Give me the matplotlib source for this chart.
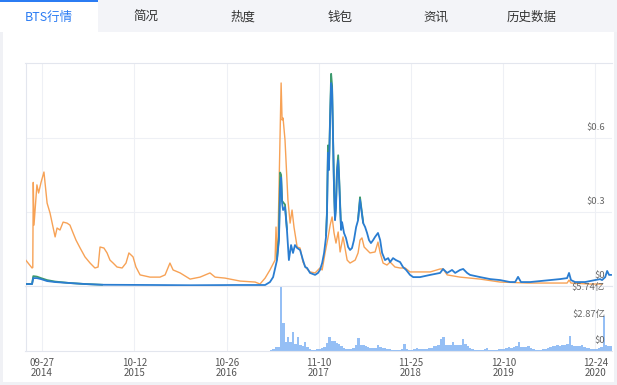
import numpy as np
import pandas as pd
import matplotlib
matplotlib.use("Agg")
import matplotlib.pyplot as plt
from matplotlib.patches import Rectangle

plt.rcParams['font.family'] = ['Noto Sans CJK SC', 'DejaVu Sans']

# tabs
tabs = ['BTS行情', '简况', '热度', '钱包', '资讯', '历史数据']

# orange series
orange_dates = [
    '2014-07-22', '2014-08-17', '2014-08-20', '2014-08-22', '2014-08-25', '2014-09-06',
    '2014-09-13', '2014-09-23', '2014-10-05', '2014-10-18', '2014-10-30', '2014-11-07',
    '2014-11-20', '2014-11-28', '2014-12-10', '2014-12-23', '2015-01-08', '2015-01-20',
    '2015-02-02', '2015-02-14', '2015-03-03', '2015-03-23', '2015-04-13', '2015-05-03',
    '2015-05-16', '2015-05-24', '2015-06-09', '2015-06-22', '2015-07-04', '2015-07-17',
    '2015-08-02', '2015-08-23', '2015-09-08', '2015-09-20', '2015-10-07', '2015-10-19',
    '2015-11-05', '2015-12-16', '2016-01-26', '2016-02-16', '2016-03-07', '2016-03-20',
    '2016-04-18', '2016-05-29', '2016-07-09', '2016-08-19', '2016-09-09', '2016-10-20',
    '2016-12-21', '2017-02-21', '2017-03-13', '2017-04-03', '2017-04-23', '2017-05-14',
    '2017-05-18', '2017-05-22', '2017-05-26', '2017-06-08', '2017-06-12', '2017-06-16',
    '2017-06-24', '2017-07-02', '2017-07-06', '2017-07-15', '2017-07-23', '2017-07-31',
    '2017-08-13', '2017-08-25', '2017-09-06', '2017-09-19', '2017-10-05', '2017-10-26',
    '2017-11-07', '2017-11-15', '2017-11-24', '2017-12-06', '2017-12-18', '2017-12-27',
    '2018-01-04', '2018-01-12', '2018-01-20', '2018-01-29', '2018-02-06', '2018-02-18',
    '2018-03-07', '2018-03-19', '2018-04-09', '2018-04-21', '2018-04-29', '2018-05-07',
    '2018-05-16', '2018-05-28', '2018-06-09', '2018-06-30', '2018-07-12', '2018-07-21',
    '2018-08-02', '2018-08-18', '2018-08-31', '2018-09-20', '2018-10-11', '2018-11-01',
    '2018-11-21', '2018-12-12', '2019-01-01', '2019-02-12', '2019-03-25', '2019-04-06',
    '2019-04-23', '2019-06-15', '2019-09-06', '2019-11-27', '2020-03-19', '2020-06-20',
    '2020-08-29', '2020-09-06', '2020-09-14', '2020-12-02', '2021-01-20',
]
orange_vals = [
    0.105, 0.073, 0.075, 0.42, 0.247, 0.41,
    0.377, 0.42, 0.462, 0.336, 0.296, 0.259,
    0.199, 0.235, 0.227, 0.259, 0.255, 0.247,
    0.215, 0.186, 0.154, 0.118, 0.093, 0.073,
    0.077, 0.158, 0.154, 0.134, 0.105, 0.093,
    0.077, 0.073, 0.093, 0.134, 0.118, 0.077,
    0.045, 0.036, 0.036, 0.045, 0.093, 0.065,
    0.053, 0.028, 0.036, 0.053, 0.036, 0.032,
    0.020, 0.016, 0.008, 0.032, 0.065, 0.105,
    0.239, 0.118, 0.186, 0.823, 0.673, 0.681,
    0.592, 0.430, 0.349, 0.255, 0.308, 0.239,
    0.158, 0.154, 0.097, 0.073, 0.057, 0.053,
    0.065, 0.073, 0.065, 0.134, 0.195, 0.247,
    0.280, 0.215, 0.174, 0.219, 0.138, 0.199,
    0.105, 0.093, 0.105, 0.134, 0.186, 0.195,
    0.158, 0.146, 0.134, 0.138, 0.178, 0.134,
    0.093, 0.085, 0.097, 0.077, 0.073, 0.073,
    0.057, 0.057, 0.057, 0.057, 0.069, 0.069,
    0.045, 0.036, 0.028, 0.016, 0.012, 0.012,
    0.012, 0.024, 0.012, 0.008, 0.008,
]

# blue series
blue_dates = [
    '2014-07-22', '2014-08-17', '2014-08-22', '2014-09-06', '2014-09-23', '2014-10-18',
    '2014-11-20', '2015-01-20', '2015-03-23', '2015-06-01', '2016-01-01', '2016-06-01',
    '2016-12-01', '2017-04-03', '2017-04-23', '2017-05-06', '2017-05-22', '2017-05-30',
    '2017-06-04', '2017-06-08', '2017-06-12', '2017-06-16', '2017-06-24', '2017-07-02',
    '2017-07-10', '2017-07-19', '2017-07-27', '2017-08-04', '2017-08-13', '2017-08-25',
    '2017-09-06', '2017-09-15', '2017-09-23', '2017-10-05', '2017-10-26', '2017-11-07',
    '2017-11-15', '2017-11-24', '2017-12-02', '2017-12-10', '2017-12-14', '2017-12-18',
    '2017-12-22', '2017-12-27', '2017-12-31', '2018-01-04', '2018-01-08', '2018-01-12',
    '2018-01-16', '2018-01-20', '2018-01-24', '2018-01-29', '2018-02-02', '2018-02-06',
    '2018-02-10', '2018-02-14', '2018-02-22', '2018-03-02', '2018-03-11', '2018-03-19',
    '2018-03-27', '2018-04-04', '2018-04-13', '2018-04-21', '2018-04-29', '2018-05-03',
    '2018-05-12', '2018-05-20', '2018-05-28', '2018-06-05', '2018-06-13', '2018-06-22',
    '2018-06-30', '2018-07-12', '2018-07-21', '2018-07-29', '2018-08-10', '2018-08-23',
    '2018-08-31', '2018-09-12', '2018-09-24', '2018-10-11', '2018-10-23', '2018-11-05',
    '2018-11-21', '2018-12-04', '2019-01-01', '2019-02-12', '2019-03-25', '2019-04-06',
    '2019-04-23', '2019-05-13', '2019-05-26', '2019-06-15', '2019-06-28', '2019-07-14',
    '2019-07-26', '2019-09-06', '2019-10-17', '2019-11-27', '2020-01-07', '2020-01-28',
    '2020-02-09', '2020-02-21', '2020-03-30', '2020-06-20', '2020-07-31', '2020-08-29',
    '2020-09-06', '2020-09-14', '2020-10-01', '2020-11-11', '2020-12-22', '2021-01-12',
    '2021-01-20', '2021-02-02', '2021-02-10', '2021-02-18', '2021-02-26',
]
blue_vals = [
    0.008, 0.008, 0.032, 0.032, 0.028, 0.020,
    0.016, 0.012, 0.008, 0.005, 0.004, 0.003,
    0.004, 0.004, 0.016, 0.036, 0.105, 0.186,
    0.390, 0.440, 0.336, 0.308, 0.320, 0.227,
    0.105, 0.166, 0.134, 0.166, 0.154, 0.146,
    0.105, 0.077, 0.073, 0.053, 0.045, 0.053,
    0.065, 0.093, 0.134, 0.199, 0.296, 0.540,
    0.470, 0.685, 0.823, 0.795, 0.592, 0.390,
    0.267, 0.320, 0.458, 0.510, 0.430, 0.320,
    0.227, 0.259, 0.215, 0.195, 0.158, 0.146,
    0.154, 0.186, 0.239, 0.267, 0.349, 0.320,
    0.255, 0.239, 0.215, 0.186, 0.174, 0.186,
    0.199, 0.215, 0.186, 0.134, 0.105, 0.113,
    0.097, 0.113, 0.105, 0.097, 0.077, 0.065,
    0.045, 0.036, 0.036, 0.045, 0.053, 0.069,
    0.053, 0.065, 0.053, 0.065, 0.069, 0.053,
    0.045, 0.036, 0.028, 0.024, 0.016, 0.016,
    0.037, 0.016, 0.016, 0.024, 0.028, 0.032,
    0.053, 0.024, 0.016, 0.016, 0.024, 0.028,
    0.024, 0.036, 0.061, 0.045, 0.045,
]

# green series (mostly hidden under blue, shows at the peaks; None = gap)
green_dates = [
    '2014-07-22', '2014-08-17', '2014-08-22', '2014-09-06', '2014-09-23', '2014-10-18',
    '2014-11-20', '2015-01-20', '2015-03-23', '2015-06-01', '2015-06-02',
    '2017-05-22', '2017-05-30', '2017-06-04', '2017-06-08', '2017-06-12', '2017-06-24',
    '2017-07-02', '2017-07-03',
    '2017-12-10', '2017-12-14', '2017-12-18', '2017-12-22', '2017-12-27', '2017-12-31',
    '2018-01-04', '2018-01-08', '2018-01-12', '2018-01-16', '2018-01-20', '2018-01-24',
    '2018-01-29', '2018-02-02', '2018-02-10', '2018-02-11',
    '2018-04-21', '2018-04-29', '2018-05-03', '2018-05-12',
]
green_vals = [
    0.008, 0.008, 0.040, 0.038, 0.032, 0.024,
    0.018, 0.012, 0.008, 0.005, None,
    0.110, 0.200, 0.460, 0.450, 0.345, 0.330,
    0.230, None,
    0.205, 0.305, 0.570, 0.480, 0.700, 0.860,
    0.810, 0.600, 0.395, 0.272, 0.330, 0.470,
    0.530, 0.440, 0.232, None,
    0.272, 0.360, 0.328, 0.258,
]

# volume (亿 USD), 10-day bins
vol_start = '2017-04-23'
vol_vals = [
    0.1, 0.2, 0.4, 0.4, 7.0, 3.0, 1.0, 1.5, 1.0, 2.1,
    0.8, 1.5, 0.6, 0.5, 1.0, 0.4, 0.2, 0.15, 0.15, 0.2,
    0.2, 0.3, 0.4, 0.9, 1.5, 1.1, 1.1, 0.9, 0.8, 0.5,
    0.3, 0.2, 0.2, 0.2, 0.3, 0.6, 1.4, 0.7, 0.6, 0.5,
    0.4, 0.3, 0.3, 0.3, 0.6, 0.4, 0.3, 0.3, 0.2, 0.2,
    0.15, 0.15, 0.15, 0.15, 0.2, 0.8, 0.2, 0.15, 0.15, 0.2,
    0.3, 0.2, 0.2, 0.2, 0.25, 0.3, 0.3, 0.5, 0.5, 0.6,
    1.3, 1.5, 0.7, 0.6, 0.6, 1.0, 0.7, 0.6, 0.6, 1.3,
    0.8, 0.5, 0.3, 0.2, 0.15, 0.15, 0.1, 0.1, 0.2, 0.3,
    0.1, 0.1, 0.1, 0.15, 0.2, 0.2, 0.25, 0.3, 0.4, 0.3,
    0.4, 0.5, 1.0, 0.4, 0.4, 0.4, 0.5, 0.3, 0.2, 0.15,
    0.15, 0.15, 0.2, 0.2, 0.3, 0.4, 0.5, 0.5, 0.7, 0.5,
    0.6, 0.6, 0.8, 1.6, 0.6, 0.5, 0.5, 0.5, 0.6, 0.4,
    0.3, 0.3, 0.25, 0.25, 0.2, 0.3, 0.4, 3.8, 0.6, 0.5,
    0.5,
]

tick_dates = ['2014-09-27', '2015-10-12', '2016-10-26', '2017-11-10',
              '2018-11-25', '2019-12-10', '2020-12-24']
price_ticks = [0, 0.3, 0.6]
vol_ticks = [0, 2.87, 5.74]

W, H = 617, 385
fig = plt.figure(figsize=(W / 100, H / 100), dpi=100)
fig.patch.set_facecolor('white')


def fx(x):
    return x / W


def fy(y):
    return 1 - y / H


# tab bar
fig.patches.append(Rectangle((0, fy(32)), 1, 32 / H, transform=fig.transFigure,
                             facecolor='#f3f4f8', edgecolor='none', zorder=0))
fig.patches.append(Rectangle((0, fy(32)), fx(98), 32 / H, transform=fig.transFigure,
                             facecolor='white', edgecolor='none', zorder=1))
fig.patches.append(Rectangle((0, fy(2)), fx(98), 2 / H, transform=fig.transFigure,
                             facecolor='#2b7cf3', edgecolor='none', zorder=2))
tab_x = [49, 146, 243, 340, 436, 532]
for i, (t, x) in enumerate(zip(tabs, tab_x)):
    fig.text(fx(x), fy(17), t, ha='center', va='center', fontsize=9,
             color='#2b7cf3' if i == 0 else '#333333')
# container borders
fig.patches.append(Rectangle((0, 0), fx(3), fy(32), transform=fig.transFigure,
                             facecolor='#f0f1f5', edgecolor='none', zorder=0))
fig.patches.append(Rectangle((0, 0), 1, 3 / H, transform=fig.transFigure,
                             facecolor='#f0f1f5', edgecolor='none', zorder=0))
fig.patches.append(Rectangle((fx(614), 0), 1 - fx(614), fy(32), transform=fig.transFigure,
                             facecolor='#f0f1f5', edgecolor='none', zorder=0))

left, right = 25.5, 612
ax = fig.add_axes([fx(left), fy(286), (right - left) / W, (286 - 63) / H])
axv = fig.add_axes([fx(left), fy(351), (right - left) / W, (351 - 286) / H])

xmin, xmax = pd.Timestamp('2014-07-21'), pd.Timestamp('2021-03-02')
grid_c = '#eef0f5'
tdates = pd.to_datetime(tick_dates)

for a in (ax, axv):
    a.set_xlim(xmin, xmax)
    for s in a.spines.values():
        s.set_color('#e3e6ee')
        s.set_linewidth(0.8)
    a.spines['right'].set_visible(False)
    a.tick_params(length=0, labelleft=False, labelbottom=False)
    a.set_yticks([])
    for d in tdates:
        a.axvline(d, color=grid_c, lw=0.8, zorder=0)

ax.set_ylim(0, 0.904)
for v in price_ticks[1:]:
    ax.axhline(v, color=grid_c, lw=0.8, zorder=0)

green_y = [np.nan if v is None else v for v in green_vals]
ax.plot(pd.to_datetime(orange_dates), orange_vals, color='#f7a256', lw=1.0, zorder=3)
ax.plot(pd.to_datetime(green_dates), green_y, color='#3d9a6e', lw=1.3, zorder=4)
ax.plot(pd.to_datetime(blue_dates), blue_vals, color='#2a7dd1', lw=1.3, zorder=5)

for v in price_ticks:
    ax.annotate('$' + ('0' if v == 0 else f'{v:g}'), (1, v), xycoords=('axes fraction', 'data'),
                xytext=(-5, 4), textcoords='offset points', ha='right', va='bottom',
                fontsize=6.8, color='#666666', zorder=6)

axv.set_ylim(0, 7.04)
vd = pd.date_range(vol_start, periods=len(vol_vals), freq='10D')
axv.bar(vd, vol_vals, width=10, color='#8ab8f4', alpha=0.9, align='edge',
        linewidth=0, zorder=2)
for v in vol_ticks:
    lab = '$0' if v == 0 else f'${v:.2f}亿'
    axv.annotate(lab, (1, v), xycoords=('axes fraction', 'data'),
                 xytext=(-5, 4), textcoords='offset points', ha='right', va='bottom',
                 fontsize=6.8, color='#666666', zorder=6)

axv.set_xticks(tdates)
axv.set_xticklabels([d.strftime('%m-%d') + '\n' + d.strftime('%Y') for d in tdates],
                    fontsize=7, color='#555555', linespacing=1.05)
axv.tick_params(axis='x', labelbottom=True, pad=5)

fig.savefig('out.png', dpi=100)
